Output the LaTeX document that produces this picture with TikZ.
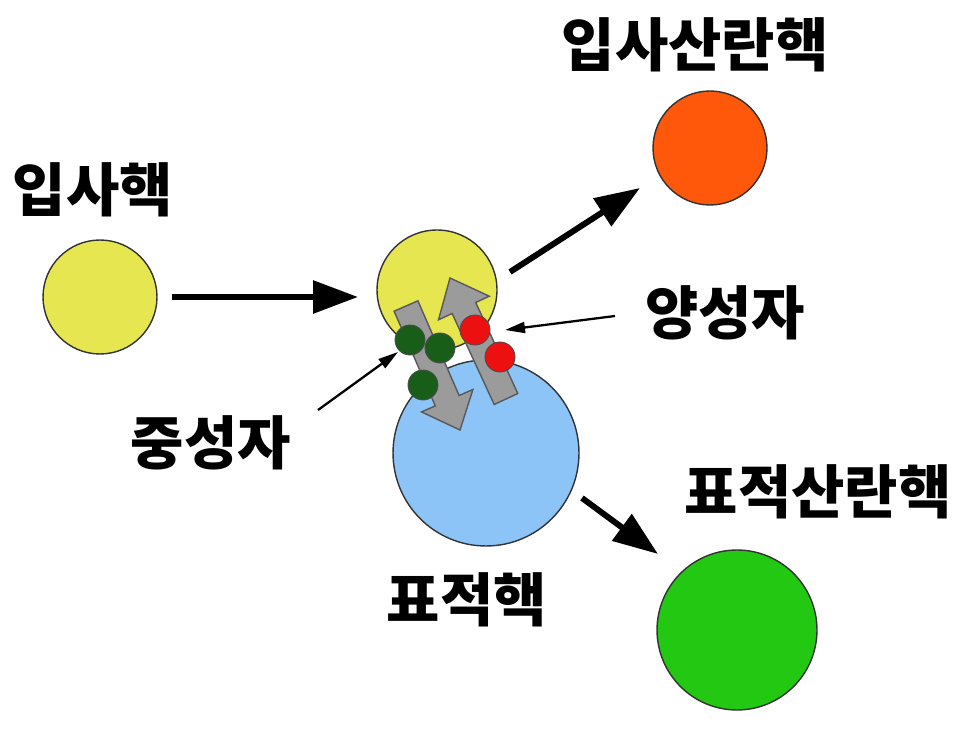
\documentclass[tikz,border=0pt]{standalone}
\usepackage{fontspec}
\setmainfont{Noto Sans CJK KR}
\usepackage{xcolor}
\usepackage{tikz}
\usetikzlibrary{arrows.meta}
\definecolor{NucYellow}{RGB}{230, 230, 80}
\definecolor{NucOrange}{RGB}{255, 88, 10}
\definecolor{NucBlue}{RGB}{140, 196, 248}
\definecolor{NucGreen}{RGB}{34, 200, 18}
\definecolor{NeutronGreen}{RGB}{24, 94, 24}
\definecolor{ProtonRed}{RGB}{236, 16, 16}
\definecolor{FlowGray}{RGB}{155, 155, 155}

\begin{document}
\begin{tikzpicture}[
    x=0.02cm, y=-0.02cm,
    nucleus/.style={circle, draw=black!80, line width=0.8pt, inner sep=0pt},
    nucleon/.style={circle, draw=black!70, line width=0.5pt, minimum size=0.6cm, inner sep=0pt},
    label/.style={font=\fontsize{33}{40}\selectfont\bfseries, inner sep=0pt},
    bigarr/.style={-{Triangle[length=0.9cm, width=0.64cm]}, line width=3.4pt},
    thinarr/.style={-{Triangle[length=0.4cm, width=0.22cm]}, line width=1.3pt},
    flow/.style={fill=FlowGray, draw=black!65, line width=0.8pt, line join=miter}
  ]
    \useasboundingbox (0,0) rectangle (962,732);

    \node[nucleus, fill=NucYellow, minimum size=2.28cm] (proj)    at (100,297) {};
    \node[nucleus, fill=NucBlue,   minimum size=3.72cm] (targ)    at (486,453) {};
    \node[nucleus, fill=NucYellow, minimum size=2.40cm] (hit)     at (437,290) {};
    \node[nucleus, fill=NucOrange, minimum size=2.28cm] (projout) at (710,148) {};
    \node[nucleus, fill=NucGreen,  minimum size=3.20cm] (targout) at (737,630) {};

    \draw[flow] (394.1,311.2) -- (435.3,405.9) -- (421.5,411.9) -- (460,430)
                -- (472.9,389.5) -- (459.1,395.5) -- (417.9,300.8) -- cycle;
    \draw[flow] (517.8,393.5) -- (475.7,302.5) -- (489.3,296.2) -- (450,278)
                -- (438.5,319.8) -- (452.1,313.5) -- (494.2,404.5) -- cycle;

    \node[nucleon, fill=NeutronGreen] (n1) at (410,340) {};
    \node[nucleon, fill=NeutronGreen] (n2) at (440,348) {};
    \node[nucleon, fill=NeutronGreen] (n3) at (423,385) {};
    \node[nucleon, fill=ProtonRed]    (p1) at (475,330) {};
    \node[nucleon, fill=ProtonRed]    (p2) at (500,357) {};

    \node[label] (lproj)    at (93,190)  {입사핵};
    \node[label] (lprojout) at (695,45)  {입사산란핵};
    \node[label] (lproton)  at (725,313) {양성자};
    \node[label] (lneutron) at (211,443) {중성자};
    \node[label] (ltargout) at (818,492) {표적산란핵};
    \node[label] (ltarg)    at (467,600) {표적핵};

    \coordinate (a1) at (172,297);  \coordinate (b1) at (358,297);
    \coordinate (a2) at (510,272);  \coordinate (b2) at (640,188);
    \coordinate (a3) at (582,498);  \coordinate (b3) at (658,554);
    \coordinate (a4) at (615,316);  \coordinate (b4) at (505,330);
    \coordinate (a5) at (318,410);  \coordinate (b5) at (398,352);

    \draw[bigarr] (a1) -- (b1);
    \draw[bigarr] (a2) -- (b2);
    \draw[bigarr] (a3) -- (b3);
    \draw[thinarr] (a4) -- (b4);
    \draw[thinarr] (a5) -- (b5);
  \end{tikzpicture}
\end{document}
